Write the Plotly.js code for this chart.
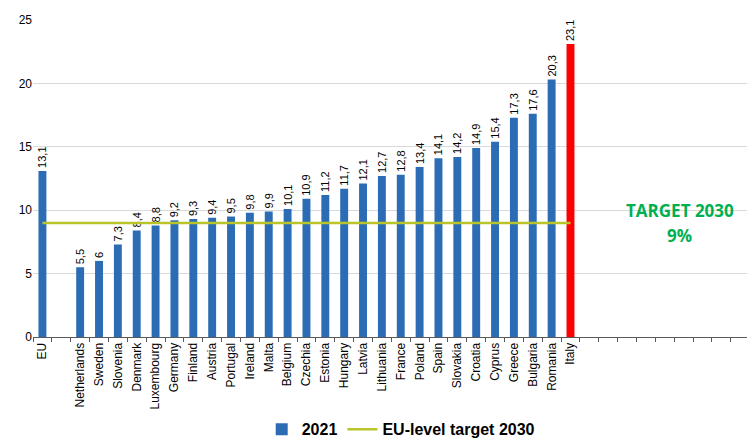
<!DOCTYPE html>
<html><head><meta charset="utf-8">
<script src="https://cdn.plot.ly/plotly-3.0.1.min.js"></script>
<style>html,body{margin:0;padding:0;background:#fff}#c{width:747px;height:439px}</style>
</head><body><div id="c"></div>
<script>
const countries = ["EU","Netherlands","Sweden","Slovenia","Denmark","Luxembourg","Germany","Finland","Austria","Portugal","Ireland","Malta","Belgium","Czechia","Estonia","Hungary","Latvia","Lithuania","France","Poland","Spain","Slovakia","Croatia","Cyprus","Greece","Bulgaria","Romania","Italy"];
const values2021 = [13.1,5.5,6,7.3,8.4,8.8,9.2,9.3,9.4,9.5,9.8,9.9,10.1,10.9,11.2,11.7,12.1,12.7,12.8,13.4,14.1,14.2,14.9,15.4,17.3,17.6,20.3,23.1];
const targetValue = 9;
const gapAfterEU = [" "];
const trailingBlanks = ["  ","   ","    ","     ","      ","       ","        ","         ","          "];

const order = [countries[0]].concat(gapAfterEU, countries.slice(1), trailingBlanks);
const barColors = countries.map(c => c === "Italy" ? "#ff0000" : "#2b6cb5");
const labels = values2021.map(v => String(v).replace(".", ","));
const lineX = [countries[0]].concat(gapAfterEU, countries.slice(1));
const lineY = lineX.map(() => targetValue);

const traces = [
  {type:"bar", x:countries, y:values2021, name:"2021", width:0.42,
   marker:{color:barColors, line:{width:0}},
   text:labels, textposition:"outside", textangle:-90, cliponaxis:false, constraintext:"none",
   textfont:{family:"Liberation Sans, Arial", size:11, color:"#000"},
   hoverinfo:"x+y"},
  {type:"scatter", mode:"lines", x:lineX, y:lineY, name:"EU-level target 2030",
   line:{color:"#b8c42a", width:2.5}}
];

const layout = {
  width:747, height:439,
  margin:{l:33, r:0, t:20, b:102, autoexpand:false},
  paper_bgcolor:"#fff", plot_bgcolor:"#fff",
  font:{family:"Liberation Sans, Arial", color:"#000"},
  showlegend:true,
  legend:{orientation:"h", x:0.515, xanchor:"center", yref:"container", y:0.022, yanchor:"middle",
          font:{size:16, family:"Liberation Sans, Arial", weight:"bold"}, itemwidth:30, tracegroupgap:0},
  xaxis:{type:"category", categoryorder:"array", categoryarray:order, range:[-0.5, 37.36],
         tickangle:-90, tickfont:{size:12, color:"#000"}, showline:true, linecolor:"#595959", linewidth:1,
         ticks:"outside", ticklen:4, tickcolor:"#595959", tickson:"boundaries", showgrid:false, fixedrange:true},
  yaxis:{range:[0,25], dtick:5, tick0:0, showgrid:true, gridcolor:"#d9d9d9", gridwidth:1,
         zeroline:false, showline:false, tickfont:{size:12, color:"#000"}, ticks:"", fixedrange:true},
  annotations:[
    {xref:"paper", yref:"y", x:0.906, xanchor:"center", y:9.98, yanchor:"middle", text:"<b>TARGET 2030</b>", showarrow:false,
     font:{family:"Open Sans", size:17, color:"#00b050"}},
    {xref:"paper", yref:"y", x:0.906, xanchor:"center", y:8.04, yanchor:"middle", text:"<b>9%</b>", showarrow:false,
     font:{family:"Open Sans", size:17, color:"#00b050"}}
  ]
};
Plotly.newPlot("c", traces, layout, {displayModeBar:false, staticPlot:true});
</script></body></html>
